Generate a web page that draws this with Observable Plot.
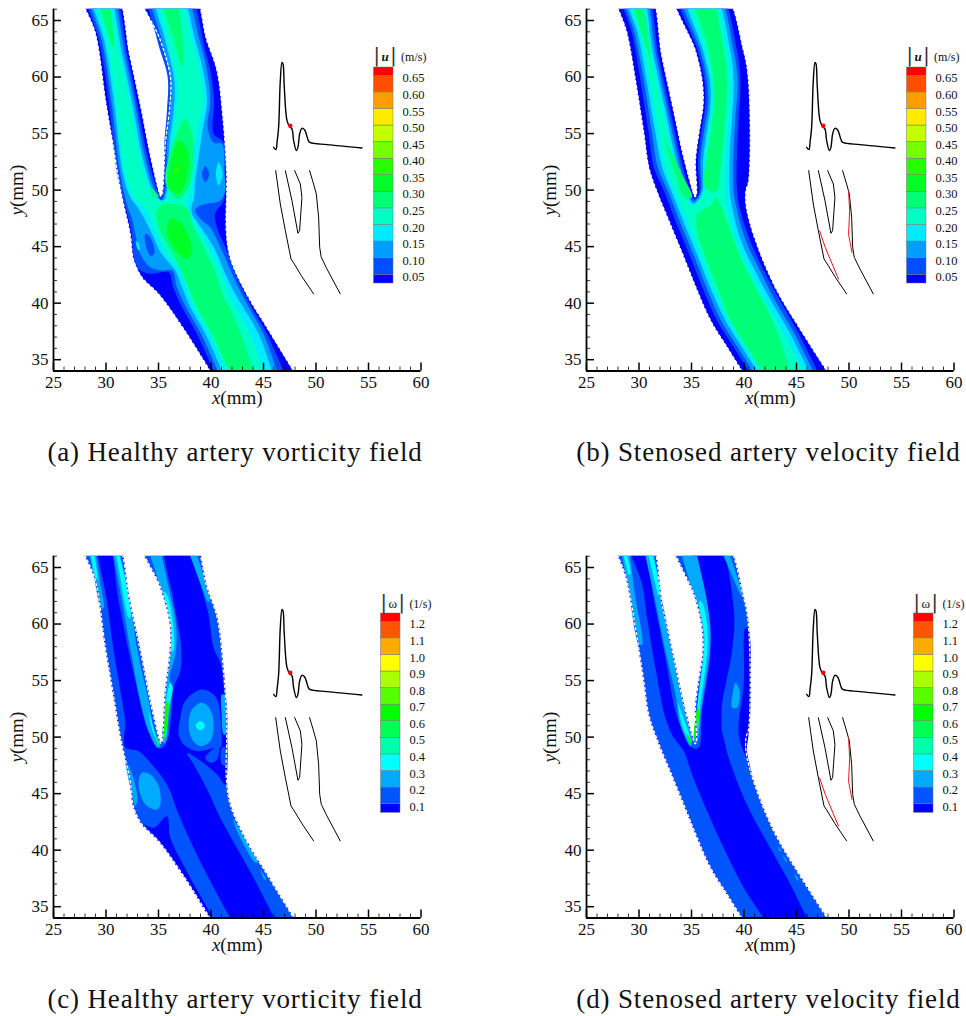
<!DOCTYPE html>
<html><head><meta charset="utf-8">
<script src="https://cdn.jsdelivr.net/npm/d3@7"></script>
<script src="https://cdn.jsdelivr.net/npm/@observablehq/plot@0.6"></script>
<style>
html,body{margin:0;padding:0;background:#fff;overflow:hidden}
#page{position:relative;width:966px;height:1016px;font-family:"Liberation Serif",serif;color:#111}
#page>svg,#page>div{position:absolute}
.cap{font-size:27px;letter-spacing:.85px;white-space:nowrap;transform:translateX(-50%)}
.hdr{font-size:13px;white-space:nowrap;line-height:16px}
.hdr .b{font-size:19px;line-height:12px;font-weight:normal;vertical-align:-1px;margin:0 1.5px;color:#333;font-family:"DejaVu Sans"}
.hdr .u{font-size:12px;margin-left:3px}
</style></head><body><div id="page"></div>
<script>
// Palette of the contour levels
const velColors=["#0000ff","#004eff","#009dff","#00ebff","#00ffc4","#00ff76","#00ff27","#27ff00","#76ff00","#c4ff00","#ffeb00","#ff9d00","#ff4e00","#ff0000"];
const vorColors=["#0000ff","#0055ff","#00aaff","#00ffff","#00ffaa","#00ff55","#00ff00","#55ff00","#aaff00","#ffff00","#ffaa00","#ff5500","#ff0000"];
const velLevels=[0.05,0.10,0.15,0.20,0.25,0.30,0.35,0.40,0.45,0.50,0.55,0.60,0.65];
const vorLevels=[0.1,0.2,0.3,0.4,0.5,0.6,0.7,0.8,0.9,1.0,1.1,1.2];

// Vessel outlines, (x mm, y mm)
const outlineHealthy=[[39.9,34],[37.4,37.7],[35,40.8],[33.4,42.3],[32.6,43.9],[32.3,46.1],[31.4,49.9],[30.7,53.8],[29.95,57.9],[29,63.8],[28.2,66],[31.2,66],[32.3,61.75],[33.4,57],[34.2,53.2],[35.1,49.7],[35.22,49.45],[35.35,49.7],[35.65,54.1],[36.07,57.3],[36.13,60],[35.2,63.2],[34,66],[38.67,66],[39.62,63.2],[40.57,60.6],[41.14,56.4],[41.5,51.4],[41.5,49.9],[41.46,46.4],[41.84,44],[43.4,40.8],[45.3,37.9],[47.87,34]];
const outlineStenosed=[[39.8,34],[38.38,36.1],[36.8,38.47],[35.53,41.12],[34.26,44.07],[32.83,47.3],[31.66,49.96],[30.93,52],[30.46,54.97],[29.66,59.7],[28.87,63.8],[28.24,66],[31.25,66],[32.2,61.75],[33.31,57],[34.26,52.9],[35.21,49.67],[35.34,49.4],[35.47,49.67],[35.37,52.6],[35.69,55],[36.1,57.6],[36,59.7],[35.37,62.3],[33.94,66],[38.54,66],[39.97,62.3],[40.45,59.5],[40.45,50.8],[40.19,49.96],[40.19,48.78],[40.6,47],[41.7,44.07],[43.14,41.12],[45.04,38.17],[47.9,34]];

// (a) healthy velocity contours
const aL1=[[40.25,34],[38.66,37.3],[37.24,39.64],[36.4,41.4],[35.97,42.74],[34.22,42.6],[33.1,43],[32.64,44.07],[32.4,46.4],[31.85,48.5],[31.05,51.4],[30.26,57.9],[29.4,63],[28.58,66],[30.99,66],[32.07,61.75],[33.1,57],[33.9,53.2],[34.9,50],[35.27,49.3],[35.5,50.3],[35.55,54.1],[35.8,57],[35.87,60],[34.9,63.2],[34.38,66],[38.19,66],[39.46,62.3],[39.93,60.57],[40.3,57.9],[40.25,55],[41.2,54.2],[41.36,51.4],[41.2,49.08],[40.4,47.9],[40.57,46.7],[41.36,45],[42.47,42.3],[43.74,39.9],[45.33,37.3],[46.91,34]];
const aL2=[[40.64,34],[39.04,37.3],[37.62,39.64],[36.76,41.4],[36.3,42.9],[35.33,42.9],[34.22,43.18],[33.27,44.36],[32.8,46.13],[32.48,47.45],[32.07,48.5],[31.37,51.4],[30.5,57.9],[29.66,63],[28.83,66],[30.74,66],[31.85,61.75],[32.89,57],[33.65,53.2],[34.6,50.1],[35.24,49.08],[35.72,50.3],[35.81,54.1],[36.13,57],[36.19,59.7],[35.33,63.2],[34.7,66],[37.87,66],[38.98,63],[39.62,60.57],[39.93,57.9],[39.68,55.56],[40.25,54.2],[41.04,54.1],[41.27,51.4],[41.36,49.96],[40.88,49.07],[38.98,48.63],[38.5,48.2],[38.98,47.45],[39.93,46.7],[41.04,44.65],[42.15,42.3],[43.42,39.94],[45,37.3],[46.28,34]];
const aL3=[[41.04,34],[39.46,37.3],[38.03,39.64],[37.24,41.4],[36.6,42.9],[35.65,43.95],[35.02,44.8],[34.38,46.13],[33.75,47.3],[33,48.5],[32.3,49.4],[31.62,51.4],[30.74,57.9],[29.88,63],[29.05,66],[30.48,66],[31.59,61.75],[32.64,57],[33.4,53.2],[34.2,50.55],[34.86,49.4],[35.43,49.08],[35.87,50.3],[36.03,54.1],[36.44,57],[36.5,59.7],[35.65,63.2],[35,66],[37.5,66],[38.57,63],[39.24,60.57],[39.62,57.9],[39.14,55],[38.82,52.9],[38.5,50.8],[38.35,49.08],[38.19,48.78],[38.19,47.9],[38.82,47],[40.25,44.95],[41.36,42.6],[42.31,40.8],[44.53,37.3],[45.8,34]];
const aL4=[[41.45,34],[39.87,37.3],[38.41,39.64],[37.55,41.7],[36.92,43.2],[35.97,44.07],[35.33,45.24],[34.7,46.4],[34.22,47.6],[33.43,48.63],[32.64,49.37],[31.85,51.4],[30.96,57.9],[30.1,63],[29.3,66],[30.26,66],[31.37,61.75],[32.42,57],[33.15,53.2],[34.07,50.25],[34.54,49.4],[35.5,49],[36.06,50.3],[36.29,54.1],[36.7,57],[36.76,59.7],[35.87,63.2],[35.33,66],[37.24,66],[38.28,63],[38.92,60.57],[39.24,57.9],[38.66,55],[38.41,53.5],[38.19,50.55],[37.87,49.4],[37.71,49.07],[37.87,47.9],[38.5,47],[39.78,44.95],[40.88,42.9],[41.7,40.8],[43.7,37.3],[45,34]];
const aL5low=[[41.74,34],[40.09,37.3],[38.66,39.64],[37.71,41.7],[36.92,43.33],[35.65,45.54],[35.02,46.7],[34.8,47.9],[35,48.5],[35.65,48.78],[37.24,48.63],[37.87,48.2],[38.19,47],[39.3,44.95],[40.3,42.9],[41.1,40.8],[42.7,37.6],[44.06,34]];
const aL5up=[[37.55,56.3],[38.35,54.1],[38.19,51.4],[37.71,50],[36.92,49.2],[36.13,49.8],[35.65,50.8],[35.97,52.9],[36.6,54.7]];
const aWedgeL=[[29.47,66],[30.26,66],[30.74,62.6],[30.42,63.2]];
const aWedgeR=[[35.49,66],[36.7,66],[37.4,61.75],[37.24,60.87],[36.6,62.93]];
const aWedgeC=[[34.22,50.25],[35.02,49.4],[34.54,49.4]];
const aL6up=[[36.92,54.4],[37.78,53.5],[37.87,52],[37.4,50.26],[36.92,49.67],[35.97,50.25],[36.29,52.9]];
const aL6low=[[36.29,47.46],[37.24,47],[38.19,44.65],[37.71,43.92],[36.92,44.36],[35.81,46.3]];
const aSpot=[[36.5,51.7],[36.98,52.1],[36.85,51.55],[36.55,51.4]];
const aDark1=[[33.75,46.13],[34.22,45.83],[34.6,44.36],[34.22,44.2],[33.75,45.24]];
const aDark2=[[39.46,52.1],[39.84,51.43],[39.46,50.7],[39.14,51.43]];
const aDark3=[[39.46,48.2],[39.93,48.5],[40.47,48.34],[40.25,47.75],[39.62,47.66]];
const aPale1=[[32.85,45.5],[33.1,45.3],[33.2,44.65],[33,44.8]];
const aPale2=[[40.73,52.46],[41.1,51.43],[40.73,50.4],[40.47,51.43]];

// (b) stenosed velocity contours
const bL1=[[40.45,34],[39.02,36.1],[37.43,38.47],[36.16,41.12],[34.9,44.07],[33.47,47.3],[32.36,49.96],[31.41,52],[30.93,55],[30.14,59.7],[29.35,63.8],[28.71,66],[30.93,66],[31.88,61.75],[32.99,57],[33.94,52.9],[34.9,49.8],[35.28,49.2],[35.69,49.67],[35.63,52.6],[35.91,55],[36.32,57.6],[36.23,59.7],[35.6,62.3],[34.33,66],[38.07,66],[39.34,62.3],[39.65,59.5],[39.5,56.4],[39.34,53.5],[39.34,49.96],[39.65,48.2],[40.6,45.5],[41.87,42.9],[43.46,40.2],[45.04,37.6],[47,34]];
const bL2=[[40.83,34],[39.4,36.1],[37.81,38.47],[36.54,41.12],[35.28,44.07],[33.85,47.3],[32.74,49.96],[31.79,52],[31.25,55],[30.46,59.7],[29.6,63.8],[28.97,66],[30.68,66],[31.66,61.75],[32.74,57],[33.72,52.9],[34.64,49.8],[35.21,49],[35.85,49.8],[35.85,52.6],[36.16,55],[36.58,57.6],[36.48,59.7],[35.85,62.3],[34.64,66],[37.81,66],[39.02,62.3],[39.4,59.5],[39.18,56.4],[39.02,53.5],[39.02,49.96],[39.34,48.2],[40.19,45.5],[41.5,42.9],[42.98,40.2],[44.63,37.6],[46.57,34]];
const bL3=[[41.24,34],[39.81,36.1],[38.23,38.47],[36.9,41.12],[35.63,44.07],[34.2,47.3],[33.06,49.96],[32.2,52],[31.57,55],[30.71,59.7],[29.89,63.8],[29.19,66],[30.46,66],[31.41,61.75],[32.52,57],[33.47,52.9],[34.42,50],[35.21,48.8],[36,49.8],[36.1,52.6],[36.42,55],[36.8,57.6],[36.74,59.7],[36.1,62.3],[34.96,66],[37.5,66],[38.7,62.3],[39.02,59.5],[38.86,56.4],[38.64,53.5],[38.64,49.96],[38.86,48.5],[39.72,45.5],[41.02,42.9],[42.57,40.2],[44.22,37.6],[46.16,34]];
const bL4=[[41.62,34],[40.19,36.1],[38.61,38.47],[37.21,41.12],[36,44.07],[34.58,47.3],[33.41,49.96],[32.52,52],[31.88,55],[31.03,59.7],[30.14,63.8],[29.44,66],[30.2,66],[31.15,61.75],[32.26,57],[33.25,52.9],[34.1,50.1],[35.05,48.6],[36.23,49.8],[36.32,52.6],[36.64,55],[37.05,57.6],[36.96,59.7],[36.32,62.3],[35.2,66],[37.21,66],[38.38,62.3],[38.7,59.5],[38.54,56.4],[38.32,53.5],[38.23,50],[38.38,48.5],[39.27,45.5],[40.51,42.9],[42.03,40.2],[43.62,37.6],[45.62,34]];
const bL5low=[[41.72,34],[40.29,36.1],[38.7,38.47],[37.59,41.12],[36.32,44.07],[35.53,46.4],[35.47,47.6],[35.69,48],[36.96,48.78],[37.27,49.37],[38.38,47.2],[39.65,44.07],[41.24,41.12],[42.83,38.17],[44.41,34]];
const bL5up=[[35.37,66],[37.12,66],[38.07,62.3],[38.38,59.4],[38.07,55],[37.75,52],[37.43,49.96],[36.96,49.8],[36.16,50.55],[36.42,52.6],[36.8,55],[37.12,57.6],[36.96,60.87],[36.32,63.5]];
const bWedge1=[[29.5,66],[30.3,66],[31.41,59.7],[30.93,62]];
const bWedge2=[[32.36,54.7],[32.83,53.8],[34.26,51.1],[35.05,49.4],[34.26,49.4],[33.47,51.4]];

// (c) healthy vorticity contours
const cCore=[[46.02,34],[44.06,37.56],[42.47,40.2],[40.88,42.87],[39.62,45.4],[38.35,47.58],[37.71,48.6],[39.46,47.58],[40.57,46.7],[41.36,45.8],[41.52,46.55],[41.52,50.5],[41.36,51.7],[40.95,56.4],[40.25,57.9],[39.62,61.4],[37.71,66],[35.81,66],[36.44,62],[37.14,58.2],[37.08,55.84],[36.44,54.37],[36.19,51.7],[35.81,49.65],[35.33,49.06],[34.86,49.06],[34.07,50.38],[33.59,51.7],[33,54.1],[32.16,57.6],[31.21,62],[30.42,66],[29.47,66],[30.1,62],[30.74,57.6],[31.37,54.1],[31.85,51.1],[31.7,49.9],[31.85,49.06],[33.11,48.76],[34.22,47.73],[35.81,45.8],[36.92,43.16],[38.35,40.2],[39.93,37.27],[41.84,34]];
const cLowStrip=[[33.5,42.35],[34.54,41.98],[35.81,43],[36.13,41.1],[38.03,37.56],[40.09,34],[39.95,34],[37.45,37.7],[35.05,40.85]];
const cLobeR1=[[39.14,54.2],[40.47,53.5],[40.95,51.1],[40.88,49.06],[40.41,49.06],[38.66,48.76],[37.4,49.35],[36.92,50.24],[37.08,51.7],[37.55,53.2]];
const cLobeR2=[[39.14,53.04],[39.93,52.45],[40.25,51.1],[39.93,49.65],[38.98,49.2],[38.2,49.8],[37.87,51.1],[38.2,52.45]];
const cLobeR3=[[38.98,51.42],[39.42,51],[38.98,50.6],[38.54,51]];
const cLobeL=[[33.43,46.85],[34.22,46.7],[35.02,45.67],[35.18,44.05],[34.86,43.6],[33.9,43.9],[33.27,44.93],[33.11,46.1]];
const cPatchR=[[40.73,49.2],[40.57,48],[39.93,47.73],[39.46,48.17]];
const cPatchW=[[41.04,49.06],[41.43,49.06],[41.43,47.58],[41.04,47.58]];
const cWallA=[[31.85,47.88],[32.32,47.14],[33,44.63],[32.8,43.9],[32.48,44.93]];
const cWallB=[[41.04,53.78],[41.36,53.6],[41.42,50.24],[41.2,50.24],[41.01,52]];
const cWallC=[[42.09,42.81],[42.63,41.98],[44.44,38.89],[44.22,38.89],[42.47,41.69]];
const cWallD=[[44.7,38.3],[45.26,37.4],[45.1,37.4]];
const cLeftOut=[[28.45,66],[29,66],[29.47,63.5],[29.78,61.4],[29.53,61.4],[28.99,63.5]];
const cLeftIn=[[30.74,66],[31.27,66],[32.32,62],[33,57.6],[34.07,53.2],[34.54,50.8],[35.18,49.2],[34.92,49.06],[34.07,50.53],[33.34,52.9],[32.48,57],[31.53,62]];
const cRightIn=[[34.22,66],[35.18,66],[35.97,63.2],[36.7,59.7],[36.6,57.3],[36.06,55.25],[36.29,54.07],[35.97,51.7],[35.65,49.5],[35.43,49.5],[35.5,52],[35.72,54.66],[36.06,57],[36.13,59.67],[35.33,62.9]];
const cRightOut=[[38.03,66],[38.5,66],[39.87,62],[39.62,62]];
const cCyan1=[[28.58,66],[28.77,66],[29.15,64],[28.96,64]];
const cCyan2=[[30.99,66],[31.21,66],[31.94,63.5],[32.32,60.56],[32.16,60.56],[31.43,63.8]];
const cCyan3=[[34.07,52.3],[34.8,49.95],[35.02,49.5],[34.48,50.4]];
const cCyan4=[[35.49,62.9],[35.81,62.6],[36.44,59.7],[36.38,57.6],[36.13,57.6],[36.19,59.7]];
const cCyan5=[[36.13,54.8],[36.35,54.4],[35.97,52.6],[35.65,49.95],[35.49,50.2],[35.65,52.6]];
const cGreen1=[[34.7,50.1],[35.1,49.4],[34.92,49.4]];
const cGreen2=[[35.82,53.2],[35.95,53.1],[35.6,50],[35.45,49.85],[35.6,52.3]];

// (d) stenosed vorticity contours
const dCore=[[41.87,34],[39.97,36.7],[38.07,40.2],[36.48,43.46],[35.05,46.7],[34.26,48.76],[33.31,49.94],[32.52,51.7],[31.57,56.1],[30.77,60.56],[30.3,63.5],[29.44,66],[30.46,66],[31.57,61.4],[32.52,57],[33.47,52.3],[34.26,50.3],[35.05,49.06],[35.69,49.06],[36,52.3],[36.8,57.6],[36.64,60.3],[36,63.5],[35.37,66],[37.75,66],[39.02,61.4],[38.86,57.6],[38.38,55.25],[37.91,52.9],[37.91,50.5],[38.07,49.94],[38.54,48.17],[40.29,44],[42.5,40.2],[44.25,37.27],[46,34]];
const dRightBlue=[[40.13,59.67],[40.45,59.4],[40.45,50.5],[40.29,48.76],[40.76,46.7],[40.45,47.6],[39.5,50.2],[39.97,54.66]];
const dBlob=[[39.18,54.8],[39.59,54.07],[39.34,52.6],[38.86,52.6],[38.96,54.07]];
const dLeftOut=[[28.4,66],[29.03,66],[29.66,62.3],[30.3,58.2],[29.98,58.2],[29.19,62]];
const dLeftIn=[[30.61,66],[31.31,66],[32.36,61.4],[33.31,57],[34.1,53.5],[35.05,49.65],[34.9,49.2],[33.94,51.1],[33.47,53.8],[32.52,57.6],[31.57,62]];
const dRightIn=[[34.1,66],[35.37,66],[36.16,63.5],[36.8,59.67],[36.74,57.6],[35.91,52.3],[35.53,49.5],[35.27,49.5],[35.43,51.7],[35.78,54.66],[36.16,58.2],[35.85,60.6],[34.9,63.5]];
const dRightOut=[[38.07,66],[38.54,66],[39.97,62.3],[39.5,62.9]];
const dCyan1=[[28.55,66],[28.77,66],[29.19,64.4],[28.97,64.4]];
const dCyan2=[[30.93,66],[31.19,66],[32.04,62.6],[31.79,62.6]];
const dCyan3=[[33.72,52.9],[34.1,52],[34.96,49.65],[34.32,50.5]];
const dCyan4=[[35.75,62],[36,61.9],[36.55,58.8],[35.85,52.9],[35.53,50.5],[35.37,50.5],[35.59,52.9],[36.23,58.8]];
const dGreen1=[[34.52,50.4],[35.05,49.5],[34.83,49.5]];
const dGreen2=[[35.6,52.6],[35.72,52.5],[35.37,49.95],[35.25,49.9]];
const dSpeck1=[[43.25,40.3],[43.5,40],[43.4,39.9]];
const dSpeck2=[[43.7,39.6],[44.1,39],[44,39]];
const dSpeck3=[[44.8,37.9],[45.2,37.4],[45.1,37.3]];

// Inset: pulse waveform and vessel sketch, in the axes' units
const pulse=[[45.97,53.78],[46.19,53.58],[46.29,54.23],[46.44,55.55],[46.6,59.68],[46.76,61.3],[46.86,61.15],[46.98,59.09],[47.24,56.14],[47.49,55.61],[47.71,55.41],[47.87,54.37],[48.13,53.49],[48.28,53.78],[48.44,54.96],[48.66,55.46],[48.92,55.32],[49.3,54.32],[49.46,54.2],[51.04,54.02],[54.37,53.73]];
const pulseDot=[[47.55,55.7]];
const sketchLeft=[[46.16,51.72],[46.6,48.77],[47.08,46.42],[47.62,43.91],[47.87,43.56],[48.66,42.35],[49.77,40.82]];
const sketchMid=[[47.08,51.72],[47.71,49.07],[48.28,46.18],[48.44,46.42],[48.66,49.36],[48.51,50.54],[47.97,51.72]];
const sketchRight=[[49.39,51.72],[49.77,50.54],[50.03,49.66],[50.25,47.6],[50.35,44.94],[50.5,44.06],[51.04,43.03],[52.31,40.82]];
const redLeft=[[47.2,46.4],[47.74,44.93],[49,42.13]];
const redRight=[[49.96,49.94],[50.06,48.17],[49.96,46.1],[50.28,44.49]];

const xMajor=d3.range(25,61,5), yMajor=d3.range(35,66,5);
const xMinor=d3.range(25,61).filter(v=>v%5), yMinor=d3.range(34,67).filter(v=>v%5);

const V=velColors, W=vorColors;
const panelA=[[outlineHealthy,V[0]],[aL1,V[1]],[aL2,V[2]],[aL3,V[3]],[aL4,V[4]],[aL5low,V[5]],[aL5up,V[5]],[aWedgeL,V[5]],[aWedgeR,V[5]],[aWedgeC,V[5]],[aL6up,V[6]],[aL6low,V[6]],[aSpot,V[7]],[aDark1,V[1]],[aDark2,V[1]],[aDark3,V[1]],[aPale1,V[3]],[aPale2,V[3]]];
const panelB=[[outlineStenosed,V[0]],[bL1,V[1]],[bL2,V[2]],[bL3,V[3]],[bL4,V[4]],[bL5low,V[5]],[bL5up,V[5]],[bWedge1,V[5]],[bWedge2,V[5]]];
const panelC=[[outlineHealthy,W[1]],[cCore,W[0]],[cLowStrip,W[0]],[cLobeR1,W[1]],[cLobeR2,W[2]],[cLobeR3,W[3]],[cLobeL,W[2]],[cPatchR,W[1]],[cPatchW,W[1]],[cWallA,W[2]],[cWallB,W[2]],[cWallC,W[2]],[cWallD,W[2]],[cLeftOut,W[2]],[cLeftIn,W[2]],[cRightIn,W[2]],[cRightOut,W[2]],[cCyan1,W[3]],[cCyan2,W[3]],[cCyan3,W[3]],[cCyan4,W[3]],[cCyan5,W[3]],[cGreen1,W[5]],[cGreen2,W[6]]];
const panelD=[[outlineStenosed,W[1]],[dCore,W[0]],[dRightBlue,W[0]],[dBlob,W[2]],[dLeftOut,W[2]],[dLeftIn,W[2]],[dRightIn,W[2]],[dRightOut,W[2]],[dCyan1,W[3]],[dCyan2,W[3]],[dCyan3,W[3]],[dCyan4,W[3]],[dGreen1,W[6]],[dGreen2,W[6]],[dSpeck1,W[2]],[dSpeck2,W[2]],[dSpeck3,W[2]]];

const page=document.getElementById("page");
const PX=d=>d[0],PY=d=>d[1];
const open=pts=>pts.some(p=>p[1]>=66||p[1]<=34);
// Vessels continue past the top of the frame: carry each wall on beyond it, so the
// smoothing of the curve happens outside the clip and the cut stays square.
function pastTop(pts){
  return pts.map((p,i)=>{
    if(p[1]<66) return p;
    const n=(pts[i-1]&&pts[i-1][1]<66)?pts[i-1]:pts[i+1];
    if(!n||n[1]>=66) return p;
    return [p[0]+(p[0]-n[0])/(p[1]-n[1])*2,68];
  });
}
function panel(left,top,layers,stenosed,edge){
  const fills=layers.map(([pts,c])=>Plot.line(pastTop(pts),{x:PX,y:PY,fill:c,stroke:"none",curve:open(pts)?"catmull-rom":"catmull-rom-closed",clip:true}));
  const sk={x:PX,y:PY,stroke:"#000",strokeWidth:1,curve:"linear"};
  const wall=pastTop(layers[0][0]);
  const svg=Plot.plot({
    width:433,height:410,marginLeft:53,marginRight:12.5,marginTop:8.7,marginBottom:39.5,
    style:{fontFamily:"Liberation Serif",fontSize:"17px",color:"#111",background:"transparent"},
    x:{domain:[25,60],axis:null},y:{domain:[34,66],axis:null},
    marks:[
      ...fills,
      edge?Plot.line(wall,{x:PX,y:PY,stroke:"#0000ff",strokeWidth:1,curve:"catmull-rom",clip:true}):null,
      Plot.line(wall,{x:PX,y:PY,stroke:"#fff",strokeWidth:1.3,strokeDasharray:"2.5 2.5",curve:"catmull-rom",clip:true}),
      Plot.line(pulse,{...sk,strokeWidth:1.4,curve:"catmull-rom"}),
      Plot.line(sketchLeft,sk),Plot.line(sketchMid,sk),Plot.line(sketchRight,sk),
      stenosed?Plot.line(redLeft,{...sk,stroke:"#e8141c"}):null,
      stenosed?Plot.line(redRight,{...sk,stroke:"#e8141c"}):null,
      Plot.dot(pulseDot,{x:PX,y:PY,r:2.2,fill:"#ff0000"}),
      Plot.ruleX(xMajor,{y1:34,y2:34.7,stroke:"#000",strokeWidth:1.5}),
      Plot.ruleX(xMinor,{y1:34,y2:34.35,stroke:"#000",strokeWidth:0.8}),
      Plot.ruleY(yMajor,{x1:25,x2:25.76,stroke:"#000",strokeWidth:1.5}),
      Plot.ruleY(yMinor,{x1:25,x2:25.38,stroke:"#000",strokeWidth:0.8}),
      Plot.ruleY([34],{stroke:"#000",strokeWidth:1.8}),
      Plot.ruleX([25],{stroke:"#000",strokeWidth:1.8}),
      Plot.axisX(xMajor,{tickSize:0,tickPadding:5,label:"x(mm)",labelAnchor:"center",labelArrow:"none",labelOffset:33,fontSize:17}),
      Plot.axisY(yMajor,{tickSize:0,tickPadding:5,label:"y(mm)",labelAnchor:"center",labelArrow:"none",labelOffset:44,fontSize:17})
    ]
  });
  svg.style.left=left+"px";svg.style.top=top+"px";
  page.appendChild(svg);
  d3.select(svg).selectAll('[aria-label="x-axis label"] text, [aria-label="y-axis label"] text').each(function(){
    const t=this.textContent;this.textContent="";
    d3.select(this).style("font-size","19px");
    d3.select(this).append("tspan").attr("font-style","italic").text(t[0]);
    d3.select(this).append("tspan").text(t.slice(1));
  });
}

function legend(left,top,height,levels,colors,step,offset,fmt){
  const n=levels.length;
  const y0=levels[0]+offset-step*0.53, y1=levels[n-1]+offset+step*0.5;
  const rows=colors.map((c,i)=>({c,
    lo:i===0?y0:levels[i-1]+offset,
    hi:i===n?y1:levels[i]+offset}));
  const svg=Plot.plot({
    width:60,height:height,marginLeft:0.5,marginRight:40,marginTop:0,marginBottom:0,
    style:{fontFamily:"Liberation Serif",fontSize:"12.5px",color:"#111",background:"transparent"},
    x:{domain:[0,1],axis:null},y:{domain:[y0,y1],axis:null},
    marks:[
      Plot.rect(rows,{x1:0,x2:1,y1:"lo",y2:"hi",fill:"c",stroke:"#777",strokeWidth:0.5}),
      Plot.text(levels,{x:1,y:d=>d,text:fmt,textAnchor:"start",dx:9,fill:"#111"})
    ]
  });
  svg.style.left=left+"px";svg.style.top=top+"px";svg.style.overflow="visible";
  page.appendChild(svg);
}
function html(cls,left,top,inner){const d=document.createElement("div");d.className=cls;d.style.left=left+"px";d.style.top=top+"px";d.innerHTML=inner;page.appendChild(d);}

panel(0,0,panelA,false,false);
panel(533,0,panelB,true,false);
panel(0,546.5,panelC,false,true);
panel(533,546.5,panelD,true,true);
const f2=d3.format(".2f"),f1=d3.format(".1f");
legend(373,67.3,216,velLevels,velColors,0.05,0.008,f2);
legend(906,67.3,216,velLevels,velColors,0.05,0.008,f2);
legend(380,613.3,199.4,vorLevels,vorColors,0.1,0.016,f1);
legend(913,613.3,199.4,vorLevels,vorColors,0.1,0.016,f1);
const uHdr='<span class="b">|</span><b><i>u</i></b><span class="b">|</span><span class="u">(m/s)</span>';
const wHdr='<span class="b">|</span>ω<span class="b">|</span><span class="u">(1/s)</span>';
html("hdr",372,49,uHdr);html("hdr",905,49,uHdr);
html("hdr",379,596,wHdr);html("hdr",912,596,wHdr);
html("cap",235,437,"(a) Healthy artery vorticity field");
html("cap",768.5,437,"(b) Stenosed artery velocity field");
html("cap",235,984,"(c) Healthy artery vorticity field");
html("cap",768.5,984,"(d) Stenosed artery velocity field");
</script></body></html>
